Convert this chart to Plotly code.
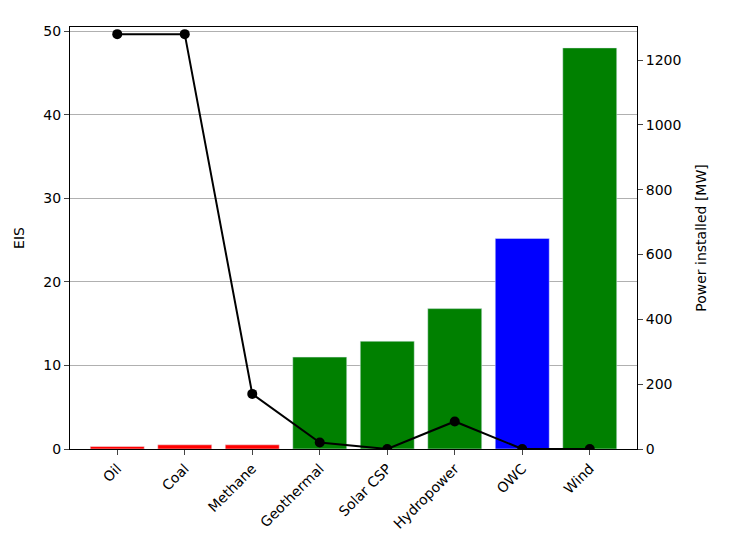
import plotly.graph_objects as go

categories = ["Oil", "Coal", "Methane", "Geothermal", "Solar CSP", "Hydropower", "OWC", "Wind"]
eis = [0.3, 0.5, 0.5, 11.0, 12.9, 16.8, 25.2, 48.0]
bar_colors = ["red", "red", "red", "green", "green", "green", "blue", "green"]
power = [1280, 1280, 170, 20, 0, 85, 0, 0]

fig = go.Figure()
fig.add_trace(go.Bar(x=categories, y=eis, marker_color=bar_colors, width=0.8, showlegend=False))
fig.add_trace(go.Scatter(x=categories, y=power, yaxis="y2", mode="lines+markers",
                         line=dict(color="black", width=2), marker=dict(color="black", size=10),
                         showlegend=False))
fig.update_layout(
    width=730, height=548, plot_bgcolor="white", paper_bgcolor="white",
    margin=dict(l=62, r=101, t=19, b=107),
    font=dict(family="DejaVu Sans", size=14, color="black"),
    xaxis=dict(tickangle=-45, showline=True, linecolor="black", mirror=True, ticks="outside",
               range=[-0.7, 7.7], automargin=False),
    yaxis=dict(title=dict(text="EIS", font=dict(size=14)), range=[0, 50.5], showgrid=True,
               gridcolor="#b0b0b0", showline=True, linecolor="black", ticks="outside",
               dtick=10, zeroline=False, automargin=False),
    yaxis2=dict(title=dict(text="Power installed [MW]", font=dict(size=14)), overlaying="y",
                side="right", range=[0, 1302], showgrid=False, showline=True, linecolor="black",
                ticks="outside", dtick=200, zeroline=False, automargin=False),
)
fig.write_html("out.html")
